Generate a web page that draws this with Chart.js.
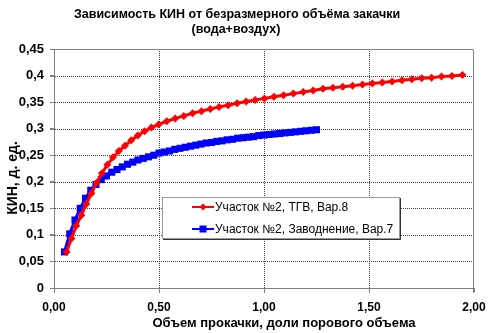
<!DOCTYPE html>
<html>
<head>
<meta charset="utf-8">
<script src="https://cdn.jsdelivr.net/npm/chart.js@4.4.1/dist/chart.umd.min.js"></script>
</head>
<body style="margin:0">
<canvas id="myChart" width="500" height="333"></canvas>
<script>
// Данные: объем прокачки (доли порового объема) и КИН
var seriesNames = ['Участок №2, ТГВ, Вар.8', 'Участок №2, Заводнение, Вар.7'];

var tgvX = [0.060, 0.083, 0.106, 0.130, 0.154, 0.178, 0.203, 0.228, 0.254, 0.281,
            0.309, 0.338, 0.368, 0.399, 0.431, 0.464, 0.498, 0.537, 0.577, 0.618,
            0.660, 0.702, 0.744, 0.786, 0.829, 0.872, 0.915, 0.958, 1.002, 1.047,
            1.093, 1.140, 1.187, 1.234, 1.281, 1.328, 1.375, 1.422, 1.469, 1.516,
            1.563, 1.610, 1.657, 1.704, 1.751, 1.798, 1.845, 1.895, 1.945];
var tgvY = [0.068, 0.093, 0.117, 0.137, 0.158, 0.178, 0.198, 0.216, 0.232, 0.246,
            0.258, 0.268, 0.278, 0.287, 0.295, 0.302, 0.308, 0.314, 0.319, 0.324,
            0.329, 0.333, 0.337, 0.341, 0.344, 0.348, 0.351, 0.354, 0.357, 0.360,
            0.363, 0.366, 0.369, 0.372, 0.375, 0.377, 0.379, 0.381, 0.383, 0.385,
            0.387, 0.389, 0.391, 0.393, 0.395, 0.396, 0.398, 0.399, 0.401];

var wfX = [0.050, 0.075, 0.100, 0.125, 0.150, 0.175, 0.200, 0.225, 0.250, 0.275,
           0.300, 0.325, 0.350, 0.375, 0.400, 0.425, 0.450, 0.475, 0.500, 0.525,
           0.550, 0.575, 0.600, 0.625, 0.650, 0.675, 0.700, 0.725, 0.750, 0.775,
           0.800, 0.825, 0.850, 0.875, 0.900, 0.925, 0.950, 0.975, 1.000, 1.025,
           1.050, 1.075, 1.100, 1.125, 1.150, 1.175, 1.200, 1.225, 1.250];
var wfY = [0.068, 0.102, 0.128, 0.150, 0.169, 0.184, 0.195, 0.204, 0.211, 0.218,
           0.223, 0.228, 0.233, 0.237, 0.241, 0.244, 0.247, 0.250, 0.254, 0.256,
           0.258, 0.261, 0.263, 0.265, 0.267, 0.269, 0.271, 0.273, 0.274, 0.276,
           0.277, 0.279, 0.280, 0.282, 0.283, 0.284, 0.285, 0.287, 0.288, 0.289,
           0.290, 0.291, 0.292, 0.293, 0.294, 0.295, 0.296, 0.297, 0.298];

var xTickLabels = ['0,00', '0,50', '1,00', '1,50', '2,00'];
var yTickLabels = ['0', '0,05', '0,1', '0,15', '0,2', '0,25', '0,3', '0,35', '0,4', '0,45'];

var chartTitle = ['Зависимость КИН от безразмерного объёма закачки', '(вода+воздух)'];
var xTitle = 'Объем прокачки, доли порового объема';
var yTitle = 'КИН, д. ед.';

function toPoints(xs, ys) {
    return xs.map(function (x, i) { return { x: x, y: ys[i] }; });
}

var FONT = '"Liberation Sans", Arial, sans-serif';
var gridColor = '#404040';
var axisColor = '#808080';

function resetStroke(c) {
    c.globalAlpha = 1;
    c.globalCompositeOperation = 'source-over';
    c.setLineDash([]);
    c.lineDashOffset = 0;
    c.lineCap = 'butt';
    c.lineWidth = 1;
}

// Сетка (под графиками), рамка, засечки, заголовки и легенда
var decorPlugin = {
    id: 'decor',
    afterDraw: function (chart) {
        var c = chart.ctx, a = chart.chartArea;
        var sx = chart.scales.x, sy = chart.scales.y;
        var L = Math.round(a.left), R = Math.round(a.right);
        var T = Math.round(a.top), B = Math.round(a.bottom);

        // пунктирная сетка позади уже нарисованных линий
        c.save();
        resetStroke(c);
        c.globalCompositeOperation = 'destination-over';
        c.strokeStyle = gridColor;
        c.setLineDash([1, 1]);
        c.beginPath();
        sx.ticks.forEach(function (t) {
            var px = Math.round(sx.getPixelForValue(t.value)) + 0.5;
            if (px > L + 1 && px < R - 1) {
                c.moveTo(px, T);
                c.lineTo(px, B);
            }
        });
        sy.ticks.forEach(function (t) {
            var py = Math.round(sy.getPixelForValue(t.value)) + 0.5;
            if (py > T + 1 && py < B - 1) {
                c.moveTo(L + 1, py);
                c.lineTo(R, py);
            }
        });
        c.stroke();
        c.restore();

        // рамка области построения и засечки
        c.save();
        resetStroke(c);
        c.strokeStyle = axisColor;
        c.beginPath();
        c.moveTo(L + 0.5, T + 0.5);
        c.lineTo(R - 0.5, T + 0.5);
        c.lineTo(R - 0.5, B);
        c.moveTo(L + 0.5, T);
        c.lineTo(L + 0.5, B + 0.5);
        c.lineTo(R, B + 0.5);
        sx.ticks.forEach(function (t) {
            var px = Math.round(sx.getPixelForValue(t.value)) + 0.5;
            if (px > R - 1) px = R - 0.5;
            c.moveTo(px, B + 1);
            c.lineTo(px, B + 5);
        });
        sy.ticks.forEach(function (t) {
            var py = Math.round(sy.getPixelForValue(t.value)) + 0.5;
            c.moveTo(L - 4, py);
            c.lineTo(L, py);
        });
        c.stroke();
        c.restore();

        c.save();
        c.fillStyle = '#000';
        c.textAlign = 'center';
        c.textBaseline = 'middle';
        c.font = 'bold 12.5px ' + FONT;
        c.fillText(chartTitle[0], 237, 15);
        c.fillText(chartTitle[1], 236, 30);
        c.font = 'bold 13px ' + FONT;
        c.fillText(xTitle, 284, 323);

        c.font = 'bold 14px ' + FONT;
        c.translate(13, 178);
        c.rotate(-Math.PI / 2);
        c.fillText(yTitle, 0, 0);
        c.restore();

        // легенда
        c.save();
        resetStroke(c);
        var bx = 162, by = 197, bw = 237, bh = 41;
        c.fillStyle = '#fff';
        c.fillRect(bx, by, bw, bh);
        c.strokeStyle = '#9a9a9a';
        c.strokeRect(bx + 0.5, by + 0.5, bw, bh);
        c.strokeStyle = '#333';
        c.beginPath();
        c.moveTo(bx + 1, by + bh + 1.5);
        c.lineTo(bx + bw + 1.5, by + bh + 1.5);
        c.lineTo(bx + bw + 1.5, by + 1);
        c.stroke();

        chart.data.datasets.forEach(function (ds, i) {
            var y = by + 10 + i * 22;
            c.strokeStyle = ds.borderColor;
            c.lineWidth = 2;
            c.beginPath();
            c.moveTo(192, y);
            c.lineTo(214, y);
            c.stroke();
            c.fillStyle = ds.borderColor;
            c.beginPath();
            if (ds.pointStyle === 'rectRot') {
                c.moveTo(203, y - 3.5);
                c.lineTo(206.5, y);
                c.lineTo(203, y + 3.5);
                c.lineTo(199.5, y);
                c.closePath();
            } else {
                c.rect(199.5, y - 3.5, 7, 7);
            }
            c.fill();
            c.fillStyle = '#000';
            c.font = '12px ' + FONT;
            c.textAlign = 'left';
            c.textBaseline = 'middle';
            c.fillText(ds.label, 215, y + 1);
        });
        c.restore();
    }
};

var ctx = document.getElementById('myChart').getContext('2d');

var myChart = new Chart(ctx, {
    type: 'scatter',
    data: {
        datasets: [{
            label: seriesNames[0],
            data: toPoints(tgvX, tgvY),
            showLine: true,
            borderColor: '#ff0000',
            backgroundColor: '#ff0000',
            borderWidth: 3,
            pointStyle: 'rectRot',
            pointRadius: 4,
            pointBorderWidth: 0,
            tension: 0
        }, {
            label: seriesNames[1],
            data: toPoints(wfX, wfY),
            showLine: true,
            borderColor: '#0000ff',
            backgroundColor: '#0000ff',
            borderWidth: 3,
            pointStyle: 'rect',
            pointRadius: 5,
            pointBorderWidth: 0,
            tension: 0
        }]
    },
    options: {
        responsive: false,
        animation: false,
        devicePixelRatio: 1,
        layout: { padding: { left: 0, right: 26, top: 49, bottom: 0 } },
        plugins: {
            legend: { display: false },
            tooltip: { enabled: false }
        },
        scales: {
            x: {
                min: 0,
                max: 2,
                afterBuildTicks: function (s) {
                    s.ticks = xTickLabels.map(function (t, i) { return { value: i * 0.5 }; });
                },
                afterFit: function (s) { s.height = 45; },
                grid: { drawOnChartArea: false, lineWidth: 1, tickLength: 4, tickColor: axisColor },
                border: { display: true, color: axisColor, width: 1 },
                ticks: {
                    padding: 8,
                    color: '#000',
                    font: { family: FONT, size: 12, weight: 'bold' },
                    maxRotation: 0,
                    callback: function (v, i) { return xTickLabels[i]; }
                }
            },
            y: {
                min: 0,
                max: 0.45,
                afterBuildTicks: function (s) {
                    s.ticks = yTickLabels.map(function (t, i) { return { value: i * 0.05 }; });
                },
                afterFit: function (s) { s.width = 54; },
                grid: { drawOnChartArea: false, lineWidth: 1, tickLength: 4, tickColor: axisColor },
                border: { display: true, color: axisColor, width: 1 },
                ticks: {
                    padding: 6,
                    color: '#000',
                    font: { family: FONT, size: 13, weight: 'bold' },
                    callback: function (v, i) { return yTickLabels[i]; }
                }
            }
        }
    },
    plugins: [decorPlugin]
});
</script>
</body>
</html>
